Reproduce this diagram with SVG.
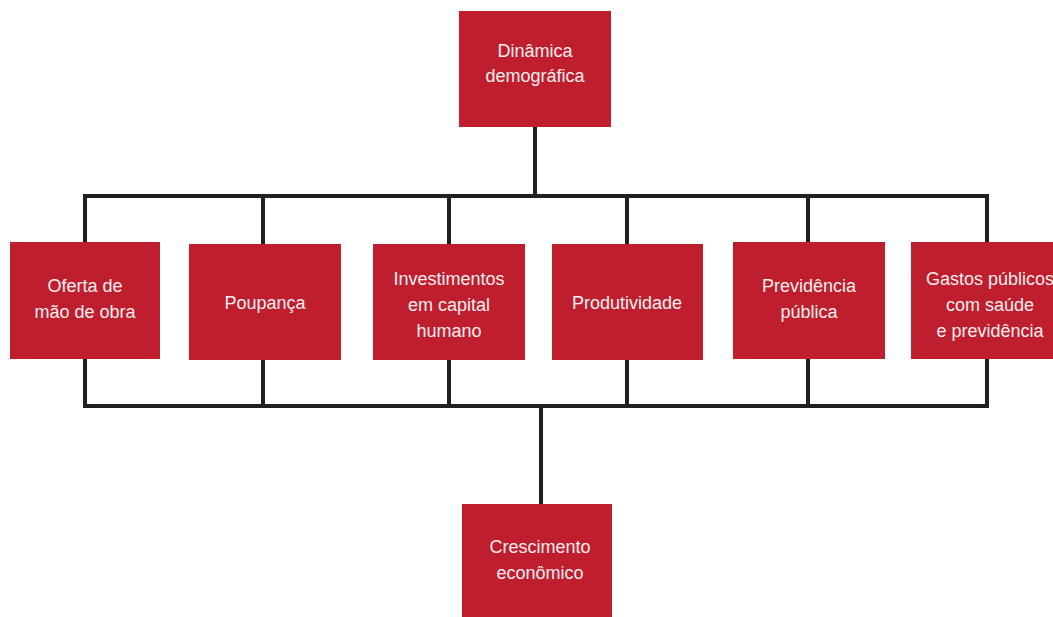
<svg xmlns="http://www.w3.org/2000/svg" width="1053" height="617" viewBox="0 0 1053 617">
<style>
.box{fill:#be1e2d}
.lbl{font-family:"Liberation Sans",Arial,sans-serif;font-size:18px;fill:#fbeef0;text-anchor:middle}
.ln{stroke:#231f20;stroke-width:4;fill:none}
</style>
<rect width="1053" height="617" fill="#ffffff"/>
<g id="connectors">
<line class="ln" x1="535" y1="127" x2="535" y2="196"/>
<polyline class="ln" points="85,242 85,196 987,196 987,242"/>
<line class="ln" x1="263" y1="196" x2="263" y2="244"/>
<line class="ln" x1="449" y1="196" x2="449" y2="244"/>
<line class="ln" x1="627" y1="196" x2="627" y2="244"/>
<line class="ln" x1="808" y1="196" x2="808" y2="242"/>
<polyline class="ln" points="85,359 85,406 987,406 987,359"/>
<line class="ln" x1="263" y1="360" x2="263" y2="406"/>
<line class="ln" x1="449" y1="360" x2="449" y2="406"/>
<line class="ln" x1="627" y1="360" x2="627" y2="406"/>
<line class="ln" x1="808" y1="359" x2="808" y2="406"/>
<line class="ln" x1="541" y1="406" x2="541" y2="505"/>
</g>
<g id="n-dinamica">
<rect class="box" x="459" y="11" width="152" height="116"/>
<text class="lbl" x="535" y="57">Dinâmica</text>
<text class="lbl" x="535" y="82">demográfica</text>
</g>
<g id="n-oferta">
<rect class="box" x="10" y="242" width="150" height="117"/>
<text class="lbl" x="85" y="292">Oferta de</text>
<text class="lbl" x="85" y="318">mão de obra</text>
</g>
<g id="n-poupanca">
<rect class="box" x="189" y="244" width="152" height="116"/>
<text class="lbl" x="265" y="309">Poupança</text>
</g>
<g id="n-investimentos">
<rect class="box" x="373" y="244" width="152" height="116"/>
<text class="lbl" x="449" y="285">Investimentos</text>
<text class="lbl" x="449" y="311">em capital</text>
<text class="lbl" x="449" y="337">humano</text>
</g>
<g id="n-produtividade">
<rect class="box" x="552" y="244" width="151" height="116"/>
<text class="lbl" x="627" y="309">Produtividade</text>
</g>
<g id="n-previdencia">
<rect class="box" x="733" y="242" width="152" height="117"/>
<text class="lbl" x="809" y="292">Previdência</text>
<text class="lbl" x="809" y="318">pública</text>
</g>
<g id="n-gastos">
<rect class="box" x="911" y="242" width="152" height="117"/>
<text class="lbl" x="990" y="285">Gastos públicos</text>
<text class="lbl" x="990" y="311">com saúde</text>
<text class="lbl" x="990" y="337">e previdência</text>
</g>
<g id="n-crescimento">
<rect class="box" x="462" y="504" width="150" height="113"/>
<text class="lbl" x="540" y="553">Crescimento</text>
<text class="lbl" x="540" y="579">econômico</text>
</g>
</svg>
